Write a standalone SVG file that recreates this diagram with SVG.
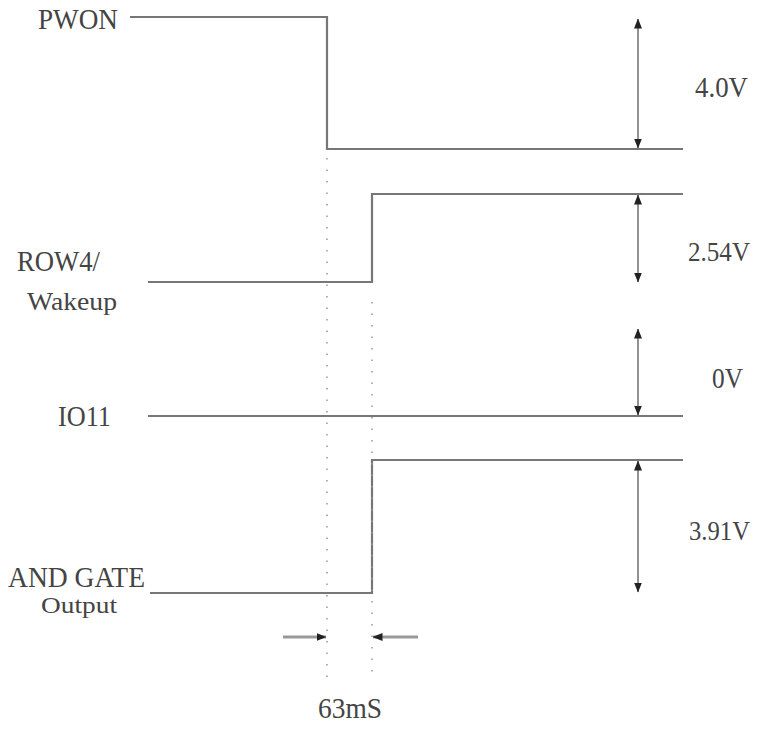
<svg xmlns="http://www.w3.org/2000/svg" width="761" height="729" viewBox="0 0 761 729">
<defs>
<marker id="ah" viewBox="0 0 10 8" refX="9.5" refY="4" markerWidth="10" markerHeight="8" markerUnits="userSpaceOnUse" orient="auto-start-reverse">
<path d="M0,0 L10,4 L0,8 z" fill="#222"/>
</marker>
<style>
.lbl{font-family:"Liberation Serif","Times New Roman",serif;font-size:30px;fill:#444;}
.sm{font-size:26px;}
.xs{font-size:24px;}
.v{font-size:28px;}
.wave{fill:none;stroke:#777;stroke-width:2.2;}
.dim{fill:none;stroke:#777;stroke-width:1.6;}
.dot{fill:none;stroke:#999;stroke-width:1.5;stroke-dasharray:1.5 10;}
.tick{fill:none;stroke:#999;stroke-width:3;}
</style>
</defs>
<rect width="761" height="729" fill="#fff"/>
<g id="pwon">
<text class="lbl" x="38" y="29" textLength="80" lengthAdjust="spacingAndGlyphs">PWON</text>
</g>
<g id="row4">
<text class="lbl" x="17" y="271" textLength="83" lengthAdjust="spacingAndGlyphs">ROW4/</text>
<text class="lbl sm" x="27" y="310" textLength="90" lengthAdjust="spacingAndGlyphs">Wakeup</text>
</g>
<g id="io11">
<text class="lbl" x="58" y="426" textLength="53" lengthAdjust="spacingAndGlyphs">IO11</text>
</g>
<g id="andgate">
<text class="lbl" x="8" y="587" textLength="137" lengthAdjust="spacingAndGlyphs">AND GATE</text>
<text class="lbl xs" x="41" y="613" textLength="76" lengthAdjust="spacingAndGlyphs">Output</text>
</g>
<g id="volt-labels">
<text class="lbl" x="695" y="97" textLength="53" lengthAdjust="spacingAndGlyphs">4.0V</text>
<text class="lbl v" x="688" y="261" textLength="62" lengthAdjust="spacingAndGlyphs">2.54V</text>
<text class="lbl" x="712" y="388" textLength="31" lengthAdjust="spacingAndGlyphs">0V</text>
<text class="lbl v" x="689" y="540" textLength="61" lengthAdjust="spacingAndGlyphs">3.91V</text>
<text class="lbl" x="318" y="718" textLength="64" lengthAdjust="spacingAndGlyphs">63mS</text>
</g>
<g id="connectors">
<path class="wave" d="M130,17 H327 V149 H683"/>
<path class="wave" d="M148,282 H372 V194 H683"/>
<path class="wave" d="M148,416 H683"/>
<path class="wave" d="M150,593 H372 V460 H683"/>
<path class="dot" d="M327,158 V680"/>
<path class="dot" d="M372,302 V680"/>
<line class="dim" x1="638" y1="148" x2="638" y2="19" marker-end="url(#ah)" marker-start="url(#ah)"/>
<line class="dim" x1="638" y1="195" x2="638" y2="282" marker-end="url(#ah)" marker-start="url(#ah)"/>
<line class="dim" x1="638" y1="329" x2="638" y2="415" marker-end="url(#ah)" marker-start="url(#ah)"/>
<line class="dim" x1="638" y1="461" x2="638" y2="592" marker-end="url(#ah)" marker-start="url(#ah)"/>
<line class="tick" x1="283" y1="637" x2="326" y2="637" marker-end="url(#ah)"/>
<line class="tick" x1="418" y1="637" x2="373" y2="637" marker-end="url(#ah)"/>
</g>
</svg>
